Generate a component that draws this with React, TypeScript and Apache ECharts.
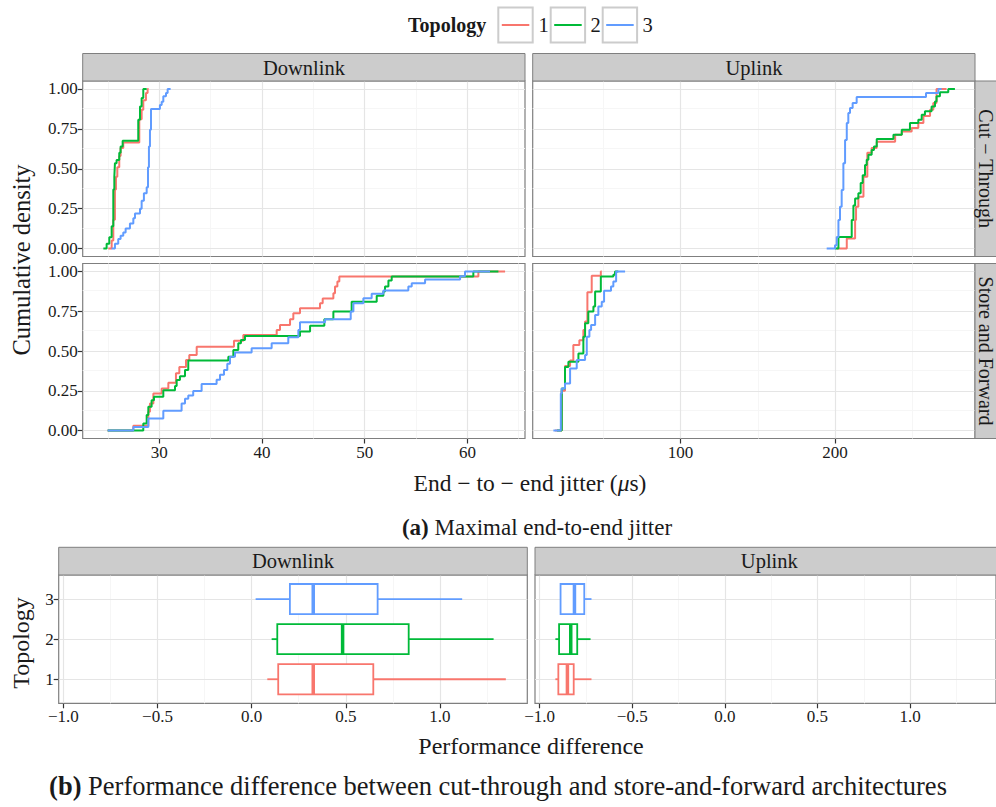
import React, { useEffect, useRef } from 'react';
import * as echarts from 'echarts';

const FONT = "'Liberation Serif', serif";

const TOPOLOGIES = ['1', '2', '3'];
const TOPO_COLORS = ['#F8766D', '#00BA38', '#619CFF'];

// ECDF step points: [end-to-end jitter (µs), cumulative density]
const ctDownlinkT1 = [[25.03, 0], [25.36, 0.05], [25.52, 0.18], [25.68, 0.37], [25.78, 0.45], [25.91, 0.51], [26.1, 0.58], [26.23, 0.63], [26.49, 0.665], [28.05, 0.81], [28.28, 0.87], [28.44, 0.93], [28.7, 0.975], [28.86, 1], [28.96, 1]];
const ctDownlinkT2 = [[24.55, 0], [24.87, 0.03], [25.13, 0.07], [25.36, 0.14], [25.52, 0.37], [25.62, 0.45], [25.68, 0.535], [25.84, 0.555], [26.1, 0.6], [26.23, 0.64], [26.43, 0.675], [27.95, 0.807], [28.12, 0.89], [28.28, 0.943], [28.44, 1], [28.77, 1]];
const ctDownlinkT3 = [[25.36, 0], [25.68, 0.03], [26.0, 0.06], [26.23, 0.08], [26.49, 0.1], [26.72, 0.126], [27.14, 0.157], [27.47, 0.19], [27.63, 0.22], [28.12, 0.25], [28.28, 0.3], [28.5, 0.346], [28.77, 0.384], [28.9, 0.51], [28.99, 0.64], [29.09, 0.744], [29.19, 0.874], [30.06, 0.9], [30.23, 0.92], [30.39, 0.954], [30.65, 0.975], [30.81, 1], [31.1, 1]];

const ctUplinkT1 = [[201.1, 0], [207.6, 0.063], [213.0, 0.178], [213.6, 0.262], [215.1, 0.325], [218.4, 0.45], [220.9, 0.6], [223.7, 0.63], [227.0, 0.67], [238.9, 0.713], [243.2, 0.734], [249.6, 0.755], [253.9, 0.786], [257.2, 0.83], [261.5, 0.87], [263.6, 0.912], [265.7, 1], [272.2, 1]];
const ctUplinkT2 = [[200.0, 0], [202.2, 0.073], [210.8, 0.178], [211.9, 0.27], [213.0, 0.314], [215.1, 0.346], [216.6, 0.41], [217.9, 0.46], [219.4, 0.524], [220.5, 0.556], [221.6, 0.587], [223.7, 0.618], [225.2, 0.64], [227.0, 0.686], [237.8, 0.713], [243.2, 0.744], [248.5, 0.786], [253.9, 0.807], [256.1, 0.838], [258.2, 0.86], [262.5, 0.89], [264.7, 0.922], [265.7, 0.954], [267.9, 0.98], [273.3, 1], [277.6, 1]];
const ctUplinkT3 = [[194.6, 0], [200.0, 0.02], [201.1, 0.073], [202.2, 0.178], [203.2, 0.262], [204.3, 0.367], [205.4, 0.535], [206.5, 0.68], [207.6, 0.786], [208.6, 0.85], [209.7, 0.88], [211.4, 0.912], [214.0, 0.95], [258.9, 0.975], [266.9, 1], [269.0, 1]];

const sfDownlinkT1 = [[24.97, 0], [27.47, 0.03], [28.93, 0.118], [29.09, 0.17], [29.42, 0.233], [30.23, 0.265], [30.88, 0.3], [31.62, 0.36], [31.95, 0.4], [32.6, 0.443], [32.92, 0.475], [33.64, 0.527], [37.27, 0.565], [38.18, 0.6], [41.43, 0.632], [41.75, 0.664], [42.73, 0.7], [43.05, 0.737], [43.7, 0.769], [45.65, 0.8], [45.91, 0.83], [46.95, 0.863], [47.11, 0.905], [47.34, 0.937], [47.53, 0.968], [61.07, 1], [63.67, 1]];
const sfDownlinkT2 = [[24.97, 0], [28.44, 0.044], [28.77, 0.097], [28.93, 0.15], [29.25, 0.19], [29.48, 0.212], [30.39, 0.254], [31.53, 0.28], [31.69, 0.317], [32.01, 0.342], [32.5, 0.38], [32.82, 0.44], [36.72, 0.464], [37.21, 0.506], [37.69, 0.548], [37.95, 0.569], [38.34, 0.595], [43.7, 0.622], [44.68, 0.658], [46.07, 0.7], [46.95, 0.748], [48.73, 0.81], [51.17, 0.847], [51.82, 0.874], [51.98, 0.905], [52.31, 0.943], [52.63, 0.968], [60.58, 1], [63.02, 1]];
const sfDownlinkT3 = [[24.97, 0], [27.47, 0.023], [28.93, 0.076], [30.39, 0.124], [32.17, 0.17], [32.5, 0.2], [32.82, 0.22], [33.3, 0.248], [34.12, 0.292], [35.58, 0.32], [35.91, 0.35], [36.3, 0.38], [36.62, 0.42], [36.88, 0.464], [37.37, 0.49], [38.99, 0.517], [40.94, 0.548], [42.56, 0.586], [43.54, 0.632], [43.7, 0.68], [46.14, 0.7], [48.64, 0.748], [48.9, 0.8], [49.87, 0.832], [50.68, 0.86], [51.82, 0.88], [54.25, 0.905], [54.58, 0.926], [55.88, 0.95], [59.29, 0.97], [59.77, 1], [62.2, 1]];

const sfUplinkT1 = [[18.8, 0], [23.1, 0.25], [25.2, 0.405], [28.5, 0.44], [30.6, 0.538], [34.5, 0.567], [37.1, 0.632], [38.2, 0.685], [39.7, 0.87], [42.5, 0.973], [48.4, 1], [49.0, 1]];
const sfUplinkT2 = [[20.0, 0], [23.1, 0.265], [25.2, 0.4], [27.4, 0.433], [33.9, 0.485], [37.1, 0.59], [38.2, 0.674], [40.3, 0.748], [43.6, 0.78], [44.7, 0.874], [48.4, 0.968], [56.5, 0.98], [57.6, 1], [59.7, 1]];
const sfUplinkT3 = [[17.7, 0], [22.5, 0.233], [23.1, 0.265], [25.2, 0.296], [28.5, 0.39], [32.8, 0.443], [38.2, 0.475], [39.3, 0.59], [41.0, 0.632], [42.1, 0.664], [44.7, 0.727], [46.8, 0.78], [49.0, 0.81], [50.5, 0.878], [55.0, 0.905], [56.5, 0.937], [58.3, 1], [64.1, 1]];

// Performance difference box statistics: [min, Q1, median, Q3, max]
const boxDownlinkT1 = [0.083, 0.141, 0.327, 0.646, 1.35];
const boxDownlinkT2 = [0.106, 0.136, 0.483, 0.834, 1.285];
const boxDownlinkT3 = [0.021, 0.203, 0.327, 0.669, 1.118];
const boxUplinkT1 = [-0.915, -0.899, -0.85, -0.816, -0.72];
const boxUplinkT2 = [-0.915, -0.895, -0.832, -0.797, -0.725];
const boxUplinkT3 = [-0.887, -0.887, -0.812, -0.759, -0.72];

// Axis ranges and ticks
const downlinkRange = [22.54, 65.61];
const downlinkTicks = [30, 40, 50, 60];
const downlinkMinor = [25, 35, 45, 55, 65];
const uplinkRange = [4.3, 290.6];
const uplinkTicks = [100, 200];
const uplinkMinor = [50, 150, 250];
const densityRange = [-0.05, 1.05];
const densityTicks = [0, 0.25, 0.5, 0.75, 1];
const densityMinor = [0.125, 0.375, 0.625, 0.875];
const diffRange = [-1.025, 1.464];
const diffTicks = [-1, -0.5, 0, 0.5, 1];
const diffMinor = [-0.75, -0.25, 0.25, 0.75, 1.25];
const topoRange = [0.4, 3.6];
const topoTicks = [1, 2, 3];

const MAJOR = '#E5E5E5';
const MINOR = '#F6F6F6';
const STRIP_FILL = '#CCCCCC';
const BORDER = '#7F7F7F';
const TEXT = '#1a1a1a';

type AxisSpec = { range: number[]; ticks: number[]; minor: number[]; fmt: (v: number) => string };

const jitterDown: AxisSpec = { range: downlinkRange, ticks: downlinkTicks, minor: downlinkMinor, fmt: (v) => String(v) };
const jitterUp: AxisSpec = { range: uplinkRange, ticks: uplinkTicks, minor: uplinkMinor, fmt: (v) => String(v) };
const density: AxisSpec = { range: densityRange, ticks: densityTicks, minor: densityMinor, fmt: (v) => v.toFixed(2) };
const diff: AxisSpec = {
  range: diffRange,
  ticks: diffTicks,
  minor: diffMinor,
  fmt: (v) => (v < 0 ? '\u2212' : '') + Math.abs(v).toFixed(1),
};
const topo: AxisSpec = { range: topoRange, ticks: topoTicks, minor: [], fmt: (v) => String(v) };

const panels = [
  { left: 82.7, top: 81, width: 442.3, height: 175.5, x: jitterDown, y: density, showX: false, showY: true },
  { left: 532.7, top: 81, width: 442.3, height: 175.5, x: jitterUp, y: density, showX: false, showY: false },
  { left: 82.7, top: 263.5, width: 442.3, height: 175, x: jitterDown, y: density, showX: true, showY: true },
  { left: 532.7, top: 263.5, width: 442.3, height: 175, x: jitterUp, y: density, showX: true, showY: false },
  { left: 58.7, top: 575, width: 468.6, height: 128.3, x: diff, y: topo, showX: true, showY: true },
  { left: 535, top: 575, width: 468.6, height: 128.3, x: diff, y: topo, showX: true, showY: false },
];

const ecdfPanels = [
  [ctDownlinkT1, ctDownlinkT2, ctDownlinkT3],
  [ctUplinkT1, ctUplinkT2, ctUplinkT3],
  [sfDownlinkT1, sfDownlinkT2, sfDownlinkT3],
  [sfUplinkT1, sfUplinkT2, sfUplinkT3],
];

const boxPanels = [
  [boxDownlinkT1, boxDownlinkT2, boxDownlinkT3],
  [boxUplinkT1, boxUplinkT2, boxUplinkT3],
];

function axisOption(gridIndex: number, spec: AxisSpec, show: boolean) {
  return {
    gridIndex,
    type: 'value',
    min: spec.range[0],
    max: spec.range[1],
    axisLine: { show: false, onZero: false },
    splitLine: { show: false },
    axisTick: {
      show,
      customValues: spec.ticks,
      length: 5,
      lineStyle: { color: '#333333', width: 1.2 },
    },
    axisLabel: {
      show,
      customValues: spec.ticks,
      formatter: spec.fmt,
      fontFamily: FONT,
      fontSize: 17,
      color: TEXT,
      margin: 5,
    },
  };
}

function gridLineSeries(gridIndex: number, x: AxisSpec, y: AxisSpec) {
  const lines: any[] = [];
  x.minor.forEach((v) => lines.push({ xAxis: v, lineStyle: { color: MINOR, width: 1, type: 'solid' } }));
  y.minor.forEach((v) => lines.push({ yAxis: v, lineStyle: { color: MINOR, width: 1, type: 'solid' } }));
  x.ticks.forEach((v) => lines.push({ xAxis: v, lineStyle: { color: MAJOR, width: 1.2, type: 'solid' } }));
  y.ticks.forEach((v) => lines.push({ yAxis: v, lineStyle: { color: MAJOR, width: 1.2, type: 'solid' } }));
  return {
    type: 'line',
    xAxisIndex: gridIndex,
    yAxisIndex: gridIndex,
    data: [],
    silent: true,
    z: 1,
    markLine: {
      silent: true,
      symbol: ['none', 'none'],
      symbolSize: 0,
      label: { show: false },
      emphasis: { disabled: true },
      z: 1,
      data: lines,
    },
  };
}

function renderBox(params: any, api: any) {
  const cat = api.value(0);
  const lo = api.value(1);
  const q1 = api.value(2);
  const med = api.value(3);
  const q3 = api.value(4);
  const hi = api.value(5);
  const cy = api.coord([q1, cat])[1];
  const h = api.size([0, 1])[1] * 0.75;
  const X = (v: number) => api.coord([v, cat])[0];
  const color = TOPO_COLORS[cat - 1];
  const stroke = { stroke: color, lineWidth: 1.8 };
  return {
    type: 'group',
    children: [
      { type: 'line', shape: { x1: X(lo), y1: cy, x2: X(q1), y2: cy }, style: stroke },
      { type: 'line', shape: { x1: X(q3), y1: cy, x2: X(hi), y2: cy }, style: stroke },
      {
        type: 'rect',
        shape: { x: X(q1), y: cy - h / 2, width: X(q3) - X(q1), height: h },
        style: { fill: '#ffffff', stroke: color, lineWidth: 1.8 },
      },
      {
        type: 'line',
        shape: { x1: X(med), y1: cy - h / 2, x2: X(med), y2: cy + h / 2 },
        style: { stroke: color, lineWidth: 3.5 },
      },
    ],
  };
}

function stripRect(x: number, y: number, w: number, h: number) {
  return {
    type: 'rect',
    shape: { x, y, width: w, height: h },
    style: { fill: STRIP_FILL, stroke: BORDER, lineWidth: 1 },
    z: 10,
  };
}

function label(text: string, x: number, y: number, size: number, extra: any = {}) {
  return {
    type: 'text',
    x,
    y,
    z: 11,
    rotation: extra.rotation || 0,
    style: {
      text,
      x: 0,
      y: 0,
      align: extra.align || 'center',
      verticalAlign: 'middle',
      fontFamily: FONT,
      fontSize: size,
      fontWeight: extra.fontWeight || 'normal',
      fill: extra.fill || TEXT,
      rich: extra.rich,
    },
  };
}

function buildOption() {
  const series: any[] = [];
  panels.forEach((p, i) => series.push(gridLineSeries(i, p.x, p.y)));

  ecdfPanels.forEach((lines, gi) => {
    lines.forEach((pts, ti) => {
      series.push({
        type: 'line',
        name: TOPOLOGIES[ti],
        xAxisIndex: gi,
        yAxisIndex: gi,
        data: pts,
        step: 'end',
        showSymbol: false,
        symbol: 'none',
        silent: true,
        z: 3,
        color: TOPO_COLORS[ti],
        lineStyle: { color: TOPO_COLORS[ti], width: 2 },
      });
    });
  });

  boxPanels.forEach((boxes, bi) => {
    const gi = 4 + bi;
    series.push({
      type: 'custom',
      xAxisIndex: gi,
      yAxisIndex: gi,
      silent: true,
      z: 3,
      renderItem: renderBox,
      encode: { x: [1, 2, 3, 4, 5], y: 0 },
      data: boxes.map((b, ti) => [ti + 1, ...b]),
    });
  });

  const graphic: any[] = [];

  // facet strips
  graphic.push(stripRect(82.7, 53.5, 442.3, 27.5), label('Downlink', 303.9, 67.5, 20.5));
  graphic.push(stripRect(532.7, 53.5, 442.3, 27.5), label('Uplink', 753.9, 67.5, 20.5));
  graphic.push(stripRect(975, 81, 28, 175.5), label('Cut \u2212 Through', 986, 168.7, 20, { rotation: -Math.PI / 2 }));
  graphic.push(stripRect(975, 263.5, 28, 175), label('Store and Forward', 986, 351, 20, { rotation: -Math.PI / 2 }));
  graphic.push(stripRect(58.7, 547.3, 468.6, 27.7), label('Downlink', 293, 561.2, 20.5));
  graphic.push(stripRect(535, 547.3, 468.6, 27.7), label('Uplink', 769.3, 561.2, 20.5));

  // axis titles and captions
  graphic.push(label('Cumulative density', 21, 260, 24.5, { rotation: Math.PI / 2 }));
  graphic.push(
    label('End \u2212 to \u2212 end jitter ({i|\u03bc}s)', 530, 483, 23.5, {
      rich: { i: { fontStyle: 'italic', fontFamily: FONT, fontSize: 23.5, fill: TEXT } },
    })
  );
  graphic.push(
    label('{b|(a)} Maximal end-to-end jitter', 537, 527, 23, {
      rich: { b: { fontWeight: 'bold', fontFamily: FONT, fontSize: 23, fill: TEXT } },
    })
  );
  graphic.push(label('Topology', 21, 643, 24, { rotation: Math.PI / 2 }));
  graphic.push(label('Performance difference', 531, 746, 24));
  graphic.push(
    label('{b|(b)} Performance difference between cut-through and store-and-forward architectures', 498, 786, 26.5, {
      rich: { b: { fontWeight: 'bold', fontFamily: FONT, fontSize: 26.5, fill: TEXT } },
    })
  );

  // legend
  graphic.push(label('Topology', 408, 25, 20, { align: 'left', fontWeight: 'bold' }));
  const keyX = [498.3, 550.7, 602.7];
  const labelX = [538.5, 590.5, 642.5];
  TOPOLOGIES.forEach((t, i) => {
    graphic.push({
      type: 'rect',
      shape: { x: keyX[i], y: 7.5, width: 34.4, height: 35 },
      style: { fill: '#ffffff', stroke: '#CCCCCC', lineWidth: 2 },
      z: 10,
    });
    graphic.push({
      type: 'line',
      shape: { x1: keyX[i] + 3.5, y1: 25, x2: keyX[i] + 31, y2: 25 },
      style: { stroke: TOPO_COLORS[i], lineWidth: 2 },
      z: 11,
    });
    graphic.push(label(t, labelX[i], 25, 20.5, { align: 'left' }));
  });

  return {
    animation: false,
    backgroundColor: '#ffffff',
    textStyle: { fontFamily: FONT },
    grid: panels.map((p) => ({
      left: p.left,
      top: p.top,
      width: p.width,
      height: p.height,
      show: true,
      backgroundColor: '#ffffff',
      borderColor: BORDER,
      borderWidth: 1.2,
      containLabel: false,
    })),
    xAxis: panels.map((p, i) => axisOption(i, p.x, p.showX)),
    yAxis: panels.map((p, i) => axisOption(i, p.y, p.showY)),
    series,
    graphic,
  };
}

export default function App() {
  const ref = useRef<HTMLDivElement>(null);
  useEffect(() => {
    if (!ref.current) return;
    const chart = echarts.init(ref.current, null, { renderer: 'svg' });
    chart.setOption(buildOption() as any);
    return () => chart.dispose();
  }, []);
  return <div ref={ref} style={{ position: 'absolute', left: 0, top: 0, width: 996, height: 807 }} />;
}
